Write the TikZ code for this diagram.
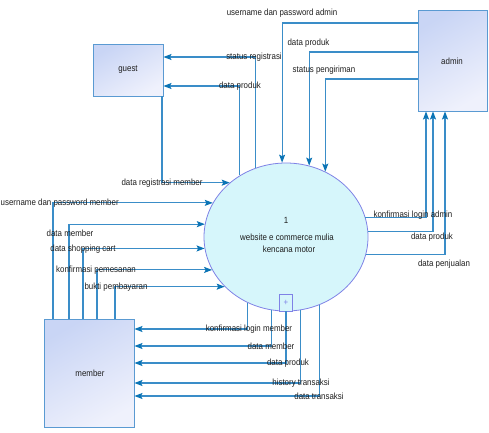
\documentclass[tikz,border=0pt]{standalone}
\usepackage{fontspec}
\setmainfont{Liberation Sans}[FakeStretch=0.88]
\usetikzlibrary{arrows.meta,shapes.geometric}
\definecolor{boxA}{HTML}{C9D5F5}
\definecolor{boxB}{HTML}{EFF1FC}
\definecolor{boxline}{HTML}{5A9AD2}
\definecolor{ellfill}{HTML}{D6F6FB}
\definecolor{ellline}{HTML}{7F82E6}
\definecolor{flowc}{HTML}{3A8DC8}
\definecolor{tipc}{HTML}{0B74B5}
\definecolor{txt}{HTML}{1E1E1E}
\tikzset{
  entity/.style={draw=boxline, line width=0.9pt, top color=boxA, bottom color=boxB, shading angle=30, inner sep=0pt, text=txt, font=\fontsize{9}{10}\selectfont},
  process/.style={ellipse, draw=ellline, line width=0.8pt, fill=ellfill, minimum width=164pt, minimum height=148pt, inner sep=0pt},
  flow/.style={draw=flowc, line width=1.1pt, -{Stealth[length=8pt,width=6pt,inset=1.5pt,color=tipc]}},
  lbl/.style={text=txt, font=\fontsize{9}{10}\selectfont, inner sep=0pt},
}
\begin{document}
\begin{tikzpicture}[x=1pt,y=-1pt]
\useasboundingbox (0,0) rectangle (489,432);
% entities
\node[entity, minimum width=70pt, minimum height=52pt] (guest) at (128,70) {guest};
\node[entity, minimum width=69pt, minimum height=101pt] (admin) at (452.5,60.5) {};
\node[lbl] (adminT) at (452,61) {admin};
\node[entity, minimum width=90pt, minimum height=108pt] (member) at (89,373) {};
\node[lbl] (memberT) at (90,373) {member};
% process
\node[process] (P) at (286,237) {};
\node[lbl] (Pt1) at (286,220) {1};
\node[lbl] (Pt2) at (287,237) {website e commerce mulia};
\node[lbl] (Pt3) at (289,249.5) {kencana motor};
\node[draw=ellline, line width=0.6pt, fill=ellfill, minimum width=13pt, minimum height=17pt, inner sep=0pt, text=ellline, font=\fontsize{9}{9}\selectfont] (plus) at (286,302.5) {+};

% admin -> process
\draw[flow] (admin.west |- 0,23) -| (P.93);
\draw[flow] (admin.west |- 0,52) -| (P.72.85);
\draw[flow] (admin.west |- 0,79) -| (P.59.9);
% process -> guest
\draw[flow] (P.114.35) |- (guest.east |- 0,57);
\draw[flow] (P.127) |- (guest.east |- 0,86);
% guest -> process
\draw[flow] (guest.south -| 162,0) |- (P.136);
% member -> process
\draw[flow] (member.north -| 53,0) |- (P.155);
\draw[flow] (member.north -| 69,0) |- (P.171.6);
\draw[flow] (member.north -| 83,0) |- (P.188.4);
\draw[flow] (member.north -| 97,0) |- (P.204.2);
\draw[flow] (member.north -| 115,0) |- (P.219.6);
% process -> admin
\draw[flow] (P.14.2) -| (admin.south -| 426,0);
\draw[flow] (P.4.2) -| (admin.south -| 433,0);
\draw[flow] (P.348) -| (admin.south -| 445,0);
% process -> member
\draw[flow] (P.240.7) |- (member.east |- 0,329);
\draw[flow] (P.259.1) |- (member.east |- 0,346);
\draw[flow] (plus.south) |- (member.east |- 0,363);
\draw[flow] (P.281.6) |- (member.east |- 0,383);
\draw[flow] (P.296) |- (member.east |- 0,396);

% labels
\node[lbl] (l1) at (282,13) {username dan password admin};
\node[lbl] (l2) at (308.5,43) {data produk};
\node[lbl] (l3) at (324,70) {status pengiriman};
\node[lbl] (l4) at (254,57) {status registrasi};
\node[lbl] (l5) at (240,86) {data produk};
\node[lbl] (l6) at (162,183) {data registrasi member};
\node[lbl, anchor=west] (l7) at (0.5,203) {username dan password member};
\node[lbl] (l8) at (70,233) {data member};
\node[lbl] (l9) at (83,249) {data shopping cart};
\node[lbl] (l10) at (96,270) {konfirmasi pemesanan};
\node[lbl] (l11) at (116,287) {bukti pembayaran};
\node[lbl] (l12) at (413,215) {konfirmasi login admin};
\node[lbl] (l13) at (432,237) {data produk};
\node[lbl] (l14) at (444,264) {data penjualan};
\node[lbl] (l15) at (249,329) {konfirmasi login member};
\node[lbl] (l16) at (271,346) {data member};
\node[lbl] (l17) at (288,363) {data produk};
\node[lbl] (l18) at (301,383) {history transaksi};
\node[lbl] (l19) at (319,396) {data transaksi};
\end{tikzpicture}
\end{document}
